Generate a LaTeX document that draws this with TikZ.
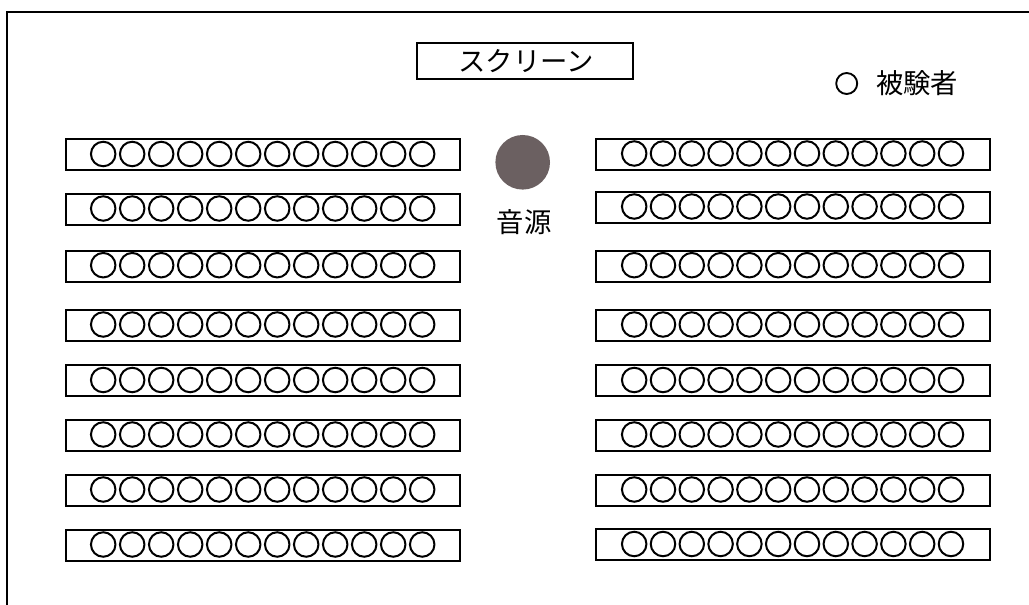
\documentclass[tikz,border=0pt]{standalone}
\usepackage{fontspec}
\newfontfamily\jpfont{Noto Sans CJK JP}
\definecolor{srccol}{RGB}{107,96,97}
\begin{document}
\begin{tikzpicture}[x=0.75pt,y=-0.75pt,
  rowbox/.style={draw=black,line width=1.5pt,fill=white,minimum width=394*0.75pt,minimum height=31*0.75pt,inner sep=0pt},
  seat/.style={circle,draw=black,line width=1.5pt,minimum size=24.5*0.75pt,inner sep=0pt},
  jtext/.style={font=\jpfont\fontsize{20.5}{24}\selectfont,inner sep=0pt}]
\useasboundingbox (0,0) rectangle (1029,605);
\coordinate (fbl) at (7,606);
\coordinate (ftl) at (7,12);
\coordinate (ftr) at (1030,12);
\draw[line width=1.5pt] (fbl) -- (ftl) -- (ftr);
% screen
\node[draw,line width=1.5pt,minimum width=216*0.75pt,minimum height=35.5*0.75pt,inner sep=0pt] (screen) at (525,61.2) {};
\node[jtext] (screentxt) at (526,61) {スクリーン};
% sound source
\node[circle,fill=srccol,minimum size=54.6*0.75pt,inner sep=0pt] (src) at (522.7,162.3) {};
\node[jtext] (srctxt) at (524,222.5) {音源};
% legend
\node[seat,line width=1.4pt,minimum size=21*0.75pt] (legseat) at (846.7,83.5) {};
\node[jtext,anchor=west] (legtxt) at (876,83) {被験者};
% rows
\foreach \i/\ly/\ry in {1/155/154.5,2/209.5/207.5,3/266.2/266.2,4/325.5/325.5,5/381/381,6/435.5/435.5,7/490.5/490.5,8/545.5/545} {
  \node[rowbox] (L\i) at (262.7,\ly) {};
  \node[rowbox] (R\i) at (793,\ry) {};
  \foreach \k in {0,...,11} {
    \node[seat] (L\i s\k) at ({103.2+29*\k},\ly-1) {};
    \node[seat] (R\i s\k) at ({634.2+28.8*\k},\ry-1) {};
  }
}
\end{tikzpicture}
\end{document}
